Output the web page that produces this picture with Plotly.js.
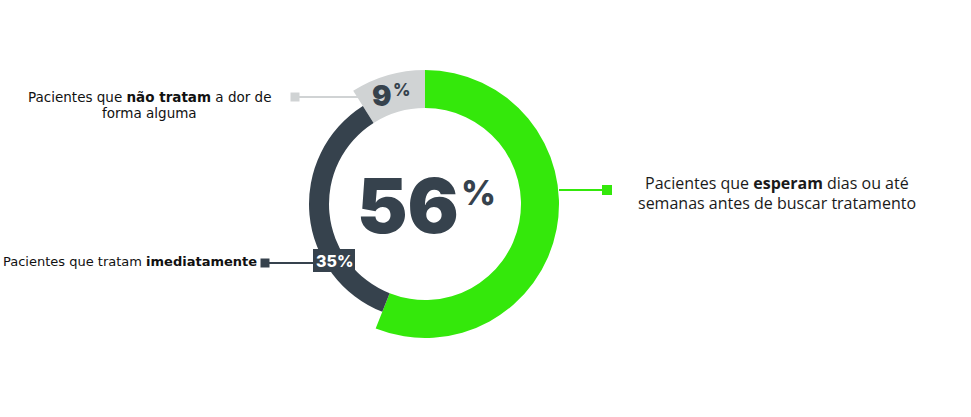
<!DOCTYPE html>
<html><head><meta charset="utf-8">
<script src="https://cdn.plot.ly/plotly-3.0.1.min.js"></script>
<style>html,body{margin:0;padding:0;background:#fff}#chart{width:971px;height:417px}</style>
</head><body><div id="chart"></div>
<script>
const categories = ["Pacientes que esperam dias ou até semanas antes de buscar tratamento", "Pacientes que tratam imediatamente", "Pacientes que não tratam a dor de forma alguma"];
const values = [56, 35, 9];
const valueLabels = ["56%", "35%", "9%"];
const labelLines = [
  ["Pacientes que <b>esperam</b> dias ou até", "semanas antes de buscar tratamento"],
  ["Pacientes que tratam <b>imediatamente</b>"],
  ["Pacientes que <b>não tratam</b> a dor de", "forma alguma"]
];

const W = 971, H = 417;
const GREEN = "#34e80b", DARK = "#36424d", GRAY = "#d0d3d4", CLEAR = "rgba(0,0,0,0)";
const px = x => x / W, py = y => 1 - y / H;
const cx = 425, cy = 204, rBig = 134, rSmall = 116, rIn = 96;
function dom(r){ return {x:[px(cx - r), px(cx + r)], y:[py(cy + r), py(cy - r)]}; }

const common = {type:"pie", values:values, labels:categories, sort:false, direction:"clockwise",
  rotation:0, textinfo:"none", hoverinfo:"none", showlegend:false};
const traces = [
  Object.assign({}, common, {domain:dom(rBig), hole:rIn/rBig,
    marker:{colors:[GREEN, CLEAR, GRAY], line:{width:0}}}),
  Object.assign({}, common, {domain:dom(rSmall), hole:rIn/rSmall,
    marker:{colors:[CLEAR, DARK, CLEAR], line:{width:0}}})
];

function ann(x, y, text, font, extra){
  return Object.assign({xref:"paper", yref:"paper", x:px(x), y:py(y), text:text, showarrow:false,
    xanchor:"center", yanchor:"middle", font:font}, extra||{});
}
const bigFont = "Inter, Lato, sans-serif";
const vFont = "'DejaVu Sans', Verdana, sans-serif";
const mFont = "'Open Sans', 'Noto Sans', sans-serif";
const annotations = [
  ann(408, 205, valueLabels[0].replace("%",""), {family:bigFont, size:76, color:DARK, weight:900}),
  ann(478, 192, "%", {family:bigFont, size:34, color:DARK, weight:800}),
  ann(382, 95, valueLabels[2].replace("%",""), {family:bigFont, size:29, color:DARK, weight:900}),
  ann(402, 90, "%", {family:bigFont, size:17, color:DARK, weight:800}),
  ann(334, 261, valueLabels[1], {family:bigFont, size:16, color:"#ffffff", weight:800}),
  ann(777, 183, labelLines[0][0], {family:mFont, size:16, color:"#1a1a1a"}),
  ann(777, 203, labelLines[0][1], {family:mFont, size:16, color:"#1a1a1a"}),
  ann(130, 261, labelLines[1][0], {family:vFont, size:13, color:"#111"}),
  ann(149, 97, labelLines[2][0], {family:vFont, size:13.5, color:"#111"}),
  ann(149, 113, labelLines[2][1], {family:vFont, size:13.5, color:"#111"})
];

function line(x0, y0, x1, y1, c){ return {type:"line", xref:"paper", yref:"paper", x0:px(x0), y0:py(y0), x1:px(x1), y1:py(y1), line:{color:c, width:2}}; }
function sq(x, y, s, c){ return {type:"rect", xref:"paper", yref:"paper", x0:px(x-s/2), x1:px(x+s/2), y0:py(y+s/2), y1:py(y-s/2), fillcolor:c, line:{width:0}}; }
const shapes = [
  line(559, 190, 607, 190, GREEN), sq(607, 190, 10, GREEN),
  line(265, 263, 313, 263, DARK), sq(265, 263, 9, DARK),
  line(295, 97, 360, 97, GRAY), sq(295, 97, 9, GRAY),
  {type:"rect", xref:"paper", yref:"paper", x0:px(313), x1:px(355), y0:py(272), y1:py(249), fillcolor:DARK, line:{width:0}, layer:"above"}
];

Plotly.newPlot("chart", traces, {
  width:W, height:H, margin:{l:0, r:0, t:0, b:0},
  paper_bgcolor:"#fff", plot_bgcolor:"#fff",
  annotations:annotations, shapes:shapes
}, {displayModeBar:false, staticPlot:true});
</script></body></html>
